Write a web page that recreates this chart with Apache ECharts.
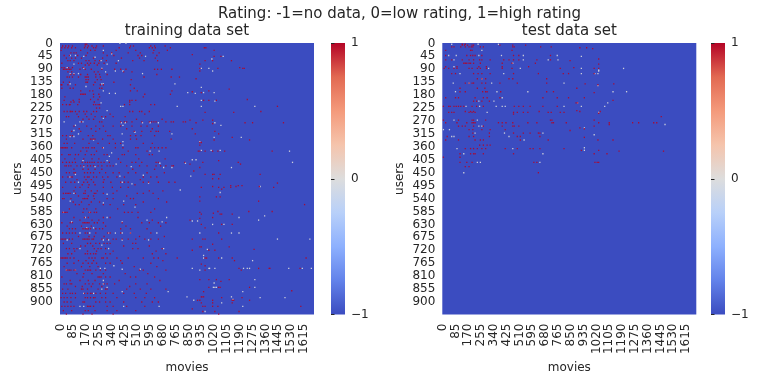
<!DOCTYPE html>
<html><head><meta charset="utf-8">
<style>html,body{margin:0;padding:0;background:#fff}#c{width:771px;height:384px}</style>
<script src="https://cdn.jsdelivr.net/npm/echarts@6/dist/echarts.min.js"></script></head>
<body><div id="c"></div>
<script>
// Each entry: [row bin, column bins...]. Rows are 3-user bins, columns are 5-movie bins.
const trainHighLeft = [
[1,33,35],[3,3,7,11,16,33,37,42,48,57,93,97,120,125,139],[5,2,6,10,15,20,32,36,44,47,78,92,118,122,126,146],
[8,1,27,40,46,74,100,124,142],[11,14,18,21,36,57,68,90,106,123,131],[14,5,12,23,34,62,71,103,108,128],
[17,8,15,20,28,44,56,81,105,126],[20,10,13,18,34,38,46,52,61,96,111,129],[23,2,24,28,36,40,45,51,58,74],[25,33,38,49],
[28,2,5,11,16,30],[30,4,6,8,10,12,14,26,33,41,55,72,80,87,125,129,134,148],[33,10,15,45,50,84,95],[36,14,18,27,36,47,52,62,128],
[39,9,12,16,24,33,35,37,47,53,111,147,158],[42,34,37,49,54,94],[45,4,12,34,36,46,71],[48,1,2,10,20,44,53,57,93],[52,2,13,17,52,55,98],
[55,27,39,43,93,102,148],[59,27,29,31,33,44,51,112,146],[62,6,44,52,110],[65,25,40,50],[66,5,17,92,95,100],[68,14,18,25,45,92],
[71,3,8,12,13,23,44,47,50,52,85,92,120,125],[75,48,52],[79,5,9,13,14,16,20,25,31,35,44,48,92,96,105,108,118],
[82,22,33,41,66,112],[85,8,11,24,35,46,55,60,70,86],[88,30,38,44,101,135],[91,28,52,55,80,85,88,95,108,118,121,124,127,140,147,150,163,166],[96,18,35,47,57,70,80,95,107,115,130],
[99,25,41,52,88,122],[102,15,27,47,60,98,108,120,127,130,145],[107,3,8,13,16,37,43,63,66,93,100,107,125],[111,8,30,40,42,44,46,56,70,93,101,147],
[116,5,9,19,38,50,65,73,80,110,122],[121,1,3,5,7,9,15,30,34,37,42,45,56,73,83,100,103,120,125,130,135,140],[125,27,35,48,90,115],
[129,2,11,13,20,24,33,41,45,58,62,82,85,100,118,122],[134,6,19,31,42,51,77,104,139],[138,3,8,12,16,20,29,33,36,39,42,45,50,54,58,65,80,95,100,108,127,130,165],
[142,6,8,11,14,22,27,31,36,40,44,50,55,62,66,70,88,105,115,127,133,140,148,150],[146,18,30,37,46,55,96,125],[150,8,12,18,20,32,36,40,44,52,60,70,78,90,100,115,138],
[155,3,10,14,16,32,36,38,44,48,56,63,75,85,110,120,128],[158,22,34,41,58,106],[161,7,14,19,31,36,44,57,67,80,85,90,110,117,130,144,152],
[164,29,38,46,99],[167,3,20,26,37,57,69,80,90],[171,18,33,41,49,75,118,136],[174,4,7,9,11,13,20,31,33,45,47,57,70,102,110,123],[177,24,37,44,88],[180,3,5,14,30,32,34,36,45,62,70,93,97,130],
[184,17,28,41,52,110,141],[187,20,25,38,57,66,84,100],[192,12,31,35,47,76,125],[196,3,5,7,9,30,38,40,45,48,85,90,95,103,120],[202,18,32,37,57,66,103],[205,26,42,51,122],
[208,2,13,16,30,32,34,36,38,45,49,57,82,108,118,130,140],[212,9,28,41,60,87,133],[215,12,16,20,30,33,35,37,40,47,52,56,80,93,115],
[220,3,8,12,16,20,33,36,47,63,66,80,93,120],[224,24,38,45,58,105,138],[227,1,3,5,7,12,16,30,32,34,36,38,42,44,55,62,70,74,82,90,100,112,120,130],
[232,4,15,36,40,47,52,58,62,66,96,100],[235,27,33,43,84,118],[238,8,12,18,22,45,50,54,60,96,103,135],[241,19,36,48,70,127],[244,10,15,33,36,40,44,47,60,66,122,140],
[249,1,3,5,7,9,13,18,38,42,46,55,57,62,75,90,110,124,130,155],[252,24,34,44,80,136],[255,9,18,30,37,42,48,60,66,82,120],[259,5,28,39,50,98,128],
[263,8,10,12,14,18,20,33,36,38,40,47,53,60,105,110,140],[267,22,31,42,57,86,116],[271,2,30,50,52,54,60,66,93,100,125],[275,13,26,37,46,78,132],[279,5,8,13,15,33,38,43,52,58,62,72,100,115],
[282,20,29,41,55,92],[285,3,10,28,30,36,50,60,62,88,106,120,140],[290,3,7,13,16,20,32,36,40,42,47,53,60,70,84,98,114],
[295,1,5,9,14,20,33,36,40,44,46,55,60,75,100,112,125],[300,5,9,14,30,32,47,52,60,66,84,108,122,130],
[305,2,6,10,14,18,36,38,40,44,62,70,88,112],[310,4,15,33,37,46,62,75,100],[314,8,30,42,70]
];
const trainHighRight = [
[5,191,193],[8,204],[13,175],[15,204,213],[20,192,202,227],[24,185],[28,238],[29,185,209,242,244],[32,185],[41,180],[53,224],[55,197],[56,175],[57,187],
[65,248],[66,190,197,207],[73,288],[79,266],[80,192,230],[89,172,189,202],[92,180,245,255,296],[93,202],[99,175],[102,205],[105,179,210],[109,228],[112,204,251],
[115,185,187],[118,185],[125,183,185,192,202,209,218,281],[136,210],[138,189,236],[140,172,239],[144,185],[148,177],[152,192,202,204,212,265],[157,202,210],
[162,288],[165,226,236,241],[166,202,233,264],[167,187,210,217,226,283],[169,214],[178,185,207,212],[183,185,263],[187,324],[195,209,250,281],[196,185],[197,203],
[198,187,212,214,228],[202,202],[203,185],[205,172],[210,187,214,228],[214,192],[220,210],[227,175,189,192,214],[233,202],[236,185,187,224],[239,257],[240,175,197,205],
[249,192,194,210,228,326],[252,231],[256,187],[258,192],[261,237,263,277,278,318],[263,192,240],[274,185,197,207,224],[276,213],[283,197,210,212,251],[287,307],[288,190],
[294,187,188,190],[295,214,241],[298,182,185,202,228,230,251],[301,187,202,228],[305,189,192,202,209,319],[308,175],[311,189,205,237],[314,210]
];
const trainLow = [
[0,79,87],[8,57],[12,68],[14,13,20],[15,31,113,216],[16,46],[18,201],[20,54,77],[24,18,62],[28,9],[29,31,55,187,197],[32,73,83,202],[33,60],[35,13,18,24,109],
[47,13,55,57,152],[50,34],[51,187],[55,57],[57,169,190,204],[58,65,73,179],[66,187],[67,205],[69,54],[73,80,83,155,187,258],[78,62],[87,57],
[91,5,26,30],[92,81,86,109,119,130,205],[95,20,83,213],[101,18],[103,99],[105,24,82,148],[108,13,18],[109,204,240],[112,44],[114,83,185],[118,83],[121,57],
[124,187,200,212],[125,119,131,304],[127,68],[131,65],[135,175,180],[136,30,62],[138,308],[139,132,166],[140,74],[143,31,46,94],[144,137,148,227],[152,20],[153,110],[154,79,173],[155,13],
[161,24,82],[162,117],[163,95],[166,265],[170,159],[173,212],[174,18],[175,62],[183,13,84],[185,57],[190,99],[196,4,39],[200,271],[202,33,62,141,237],[205,115,263],[206,175,182],
[207,15,82,135],[210,202,217],[214,35,44],[220,26,39,64,73,82,93,128,185,227,237],[227,288,331],[228,9,57,64,82,117],[234,55],[238,26,64,137],[239,195],[246,190],[249,190,214],
[252,255],[258,71],[261,53,59,175,197,198,205,243,248,251,303,321,333],[262,82,106],[263,8,20,185],[274,258],[275,57],[278,204],[279,57],[283,62,203,205,207,258],[285,55],[288,82,143,242],
[290,31,44],[294,168,227],[295,265,298],[297,229],[298,177],[301,214],[305,26,31,84,131,242],[311,192]
];
const testHigh = [
[1,26,30],[2,26,29,33,39,41,76,93,110],[4,12,15,24,30,35,38,40,50,54,93,95,130,144],[5,182,191],[6,199],[8,4,37,39,92],
[14,4,32,37,40,43,52,94,101,143],[18,207],[19,4,12,26,35,41,49,52,63,81,88,94,101,125,143],[20,169],[23,28,30,32,35,37,41,50,79,92,123],[24,207],
[27,4,19,48,58,79,114],[28,174],[29,2,8,15,19,35,39,46,50,58,79,92,156,201,207],[35,12,17,41,47,52,63,94,127,160,167,201],[41,46,52,57,88,93,138],
[46,30,35,39,41,52,57,76,99,138],[47,189,227],[48,206],[52,23,46,56,178],[56,23,30,53,57,59,77,138,147],[57,201],[63,4,17,21,43,54,59,76,133,152,167,188],
[66,226],[67,41,45,52,62],[69,177,179],[73,1,8,10,15,18,21,24,28,39,45,54,95,101,107,116,133,152],[78,178],[79,30,37,41,128,182,209],[80,8,12,15,35,39,43,94,99,107,113,140,144,156,161],
[81,207],[82,94],[85,290],[89,1,21,39,41,57,143,145,201],[92,4,19,32,39,41,43,74,79,84,93,113,125,145,147,164,207,221,252,260,280,284],[94,221],
[96,21,26,30,41,54,79,93,95,101,201],[98,182],[99,188],[100,35,40,52,63,83],[101,169],[104,40,62,94,107,116,127,129],[108,6,35,41,62,99,103,129],[109,188],
[112,4,21,43,50,54,103,140,206,226],[118,49,54,59,63],[122,30,37,41,46,52,57,83,99,116,120,129,161],[124,184,207],[125,234,293],[128,23,37,41,43,54,94,201,218],
[132,1,23],[138,23,32,39,121,125,202,205,207],[143,30,35],[150,127]
];
const testLow = [
[1,12,47,74],[8,52],[14,8,18,48,78,107,152],[15,184],[19,15,107,140,153],[23,93],[27,15],[29,61,103,184,240],[31,207],[32,207],[35,23,81,184,202,206],
[41,52],[46,14,35,65,161],[49,206],[56,17,72,113,226,244],[63,79],[67,48,68],[69,179,219],[73,31,49,71,79,83,161,184,215],[80,59,207],[89,15,46],[94,295],
[96,48,52],[98,188],[100,1,9],[104,43,82,133],[106,201],[108,12,15,88],[112,108],[121,188],[122,19,93],[124,188],[128,28,133],[138,46,50,129],[150,28]
];
const movieBins = Array.from({length:337},(_,i)=>String(i*5));
const userBins = Array.from({length:315},(_,i)=>String(i*3));
const ratingTicks = [-1,0,1];
const coolwarm = ['#3b4cc0','#6282ea','#8db0fe','#b8d0f9','#dddddd','#f5c4ac','#f49a7b','#e26952','#b40426'];
const font = 'DejaVu Sans', ink = '#262626';

function cells(lists, v){
  const out = [];
  lists.forEach(r => { for (let i = 1; i < r.length; i++) out.push([r[i], r[0], v]); });
  return out;
}
const trainData = cells(trainLow,0).concat(cells(trainHighLeft,1), cells(trainHighRight,1));
const testData = cells(testLow,0).concat(cells(testHigh,1));

const plots = [{left:60,bar:331,name:'training data set',data:trainData},{left:442.3,bar:711,name:'test data set',data:testData}];
const lab = {fontFamily:font,fontSize:12,color:ink};
const barStops = coolwarm.map((color,i)=>({offset:i/(coolwarm.length-1),color}));
const grid=[],xAxis=[],yAxis=[],series=[],visualMap=[],graphic=[];
const title=[{text:'Rating: -1=no data, 0=low rating, 1=high rating',left:394.5,top:2,textAlign:'center',textStyle:{fontFamily:font,fontSize:15,fontWeight:'normal',color:ink}}];
plots.forEach((p,k)=>{
  title.push({text:p.name,left:p.left+122,top:19,textAlign:'center',textStyle:{fontFamily:font,fontSize:15,fontWeight:'normal',color:ink}});
  grid.push({left:p.left,top:43,width:254,height:271.5,show:true,backgroundColor:'#3b4cc0',borderWidth:0});
  xAxis.push({type:'category',gridIndex:2*k,data:movieBins,name:'movies',nameLocation:'middle',nameGap:47,nameTextStyle:lab,
    axisLine:{show:false},axisTick:{alignWithLabel:true,interval:16,length:3.5,lineStyle:{color:ink}},
    axisLabel:Object.assign({interval:16,rotate:90,margin:9},lab),splitLine:{show:false}});
  yAxis.push({type:'category',gridIndex:2*k,inverse:true,data:userBins,name:'users',nameLocation:'middle',nameGap:36,nameTextStyle:lab,
    axisLine:{show:false},axisTick:{alignWithLabel:true,interval:14,length:3.5,lineStyle:{color:ink}},
    axisLabel:Object.assign({interval:14,margin:7},lab),splitLine:{show:false}});
  series.push({type:'heatmap',xAxisIndex:2*k,yAxisIndex:2*k,data:p.data,progressive:0,animation:false,itemStyle:{borderWidth:0,opacity:0.9},emphasis:{disabled:true}});
  // colour-bar tick axis
  grid.push({left:p.bar,top:43,width:14,height:271.5});
  xAxis.push({type:'value',gridIndex:2*k+1,show:false,min:0,max:1});
  yAxis.push({type:'value',gridIndex:2*k+1,position:'right',min:ratingTicks[0],max:ratingTicks[2],interval:1,
    axisLine:{show:false},axisTick:{show:true,length:3.5,lineStyle:{color:ink}},splitLine:{show:false},
    axisLabel:Object.assign({margin:6,formatter:v=>String(v).replace('-','\u2212')},lab)});
  visualMap.push({type:'continuous',min:-1,max:1,seriesIndex:k,show:false,inRange:{color:coolwarm}});
  graphic.push({type:'rect',left:p.bar,top:43,shape:{width:14,height:271.5},silent:true,z:0,
    style:{fill:new echarts.graphic.LinearGradient(0,1,0,0,barStops)}});
});
const chart = echarts.init(document.getElementById('c'),null,{renderer:'canvas'});
chart.setOption({animation:false,backgroundColor:'#fff',tooltip:{show:false},title,grid,xAxis,yAxis,series,visualMap,graphic});
</script></body></html>
